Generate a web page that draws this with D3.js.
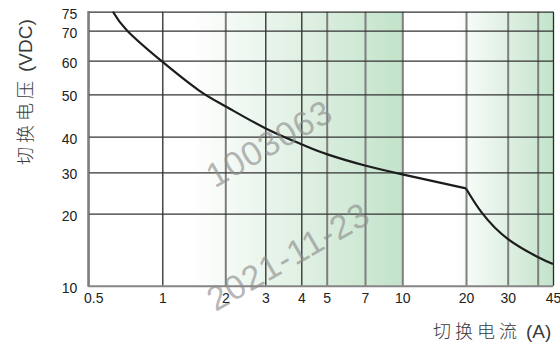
<!DOCTYPE html>
<html><head><meta charset="utf-8">
<script src="https://cdn.jsdelivr.net/npm/d3@7"></script>
<style>body{margin:0;background:#fff;} svg{display:block;}</style>
</head><body><svg id="c" width="560" height="347"></svg>
<script>
// ---- data ----
const xTicks = [0.5, 1, 2, 3, 4, 5, 7, 10, 20, 30, 40, 45];
const xLabelTicks = [0.5, 1, 2, 3, 4, 5, 7, 10, 20, 30, 45];
const yTicks = [10, 20, 30, 40, 50, 60, 70, 75];
const current = [0.63, 0.72, 1, 1.5, 2, 3, 4, 5, 7, 10, 20, 23.5, 30, 40, 45];
const voltage = [75, 70, 59.7, 51.1, 47.2, 42, 37.9, 35.1, 31.9, 29.5, 26.1, 20, 16.5, 14, 13];
const kneeCurrent = 20;
const greenBands = [[1.35, 10], [17.4, 45]];
const xTitle = "切换电流", xUnit = "(A)";
const yTitle = "切换电压", yUnit = "(VDC)";
const watermarks = ["1003063", "2021-11-23"];

// ---- layout (hand-drawn axis of the original: gridline pixel positions) ----
const xGridPx = [88.3, 162.3, 225.3, 265.3, 301.3, 326.7, 365, 402.3, 466, 507.7, 537.7, 553];
const yGridPx = [285.7, 213.7, 172.3, 136.7, 94.3, 60.7, 30.7, 11.7];

const x = d3.scaleLog().domain(xTicks).range(xGridPx);
const y = d3.scaleLinear().domain(yTicks).range(yGridPx);
const pL = x(0.5), pR = x(45), pT = y(75), pB = y(10);

const svg = d3.select("#c");
const defs = svg.append("defs");
const green = "#c3e3ca";

// green gradient bands
greenBands.forEach((b, i) => {
  const gid = "g" + i;
  const lg = defs.append("linearGradient").attr("id", gid)
    .attr("gradientUnits", "userSpaceOnUse")
    .attr("x1", x(b[0])).attr("x2", x(b[1])).attr("y1", 0).attr("y2", 0);
  lg.append("stop").attr("offset", 0).attr("stop-color", "#ffffff");
  lg.append("stop").attr("offset", 1).attr("stop-color", green);
  svg.append("rect").attr("x", x(b[0])).attr("y", pT)
    .attr("width", x(b[1]) - x(b[0])).attr("height", pB - pT)
    .attr("fill", `url(#${gid})`);
});

// vertical grid via axis
const darkX = new Set([1, 3, 4, 45]);
const gx = svg.append("g").attr("transform", `translate(0,${pB})`)
  .call(d3.axisBottom(x).tickValues(xTicks).tickSize(-(pB - pT)).tickFormat(""));
gx.select(".domain").remove();
gx.selectAll(".tick line")
  .attr("stroke", d => darkX.has(d) ? "#2a2a2a" : "#7e7e7e")
  .attr("stroke-width", d => darkX.has(d) ? 1.3 : 2);

// horizontal grid via axis
const gy = svg.append("g").attr("transform", `translate(${pL},0)`)
  .call(d3.axisLeft(y).tickValues(yTicks).tickSize(-(pR - pL)).tickFormat(""));
gy.select(".domain").remove();
gy.selectAll(".tick line")
  .attr("stroke", d => d === 10 ? "#858585" : "#333")
  .attr("stroke-width", d => d === 10 ? 2 : 1.3);

// left axis line (gray, on top of horizontals)
svg.append("line").attr("x1", pL).attr("x2", pL).attr("y1", pT - 0.6).attr("y2", pB + 1)
  .attr("stroke", "#7e7e7e").attr("stroke-width", 2);

// curve
const pts = current.map((c, i) => [c, voltage[i]]);
const k = current.indexOf(kneeCurrent);
const line = d3.line().x(d => x(d[0])).y(d => y(d[1])).curve(d3.curveNatural);
[pts.slice(0, k + 1), pts.slice(k)].forEach(seg => {
  svg.append("path").attr("d", line(seg)).attr("fill", "none")
    .attr("stroke", "#1c1c1c").attr("stroke-width", 2.2).attr("stroke-linejoin", "miter");
});

// watermarks
const wmPos = [[269, 143], [288, 256]];
watermarks.forEach((t, i) => {
  svg.append("text").attr("transform", `translate(${wmPos[i][0]},${wmPos[i][1]}) rotate(-30)`)
    .attr("text-anchor", "middle").attr("dy", "0.36em")
    .attr("font-family", "Liberation Sans, Arial, sans-serif").attr("font-size", 34)
    .attr("letter-spacing", 1)
    .attr("fill", "#8c8c8c").attr("fill-opacity", 0.65).text(t);
});

// tick labels
const fontFam = "Liberation Sans, Arial, Helvetica, sans-serif";
const xl = svg.append("g").attr("transform", `translate(0,${pB})`)
  .call(d3.axisBottom(x).tickValues(xLabelTicks).tickSize(0).tickPadding(7.3).tickFormat(d3.format("")));
xl.select(".domain").remove();
xl.selectAll("text").attr("font-family", fontFam).attr("font-size", 14).attr("fill", "#222")
  .attr("dx", d => d === 0.5 ? 5 : 0);

const yl = svg.append("g").attr("transform", `translate(${pL},0)`)
  .call(d3.axisLeft(y).tickValues(yTicks).tickSize(0).tickPadding(11).tickFormat(d3.format("")));
yl.select(".domain").remove();
yl.selectAll("text").attr("font-family", fontFam).attr("font-size", 14).attr("fill", "#222")
  .attr("dy", "0.46em");

// axis titles
const cjk = "Noto Sans CJK SC, sans-serif";
const xt = svg.append("text").attr("x", 433).attr("y", 338).attr("fill", "#3a3a3a");
xt.append("tspan").attr("font-family", cjk).attr("font-weight", 300).attr("font-size", 18).attr("letter-spacing", 4).text(xTitle);
xt.append("tspan").attr("dx", 5).attr("font-family", fontFam).attr("font-size", 19).text(xUnit);

const yt = svg.append("text").attr("transform", "translate(32,165) rotate(-90)").attr("fill", "#3a3a3a");
yt.append("tspan").attr("font-family", cjk).attr("font-weight", 300).attr("font-size", 18).attr("letter-spacing", 4).text(yTitle);
yt.append("tspan").attr("dx", 5).attr("font-family", fontFam).attr("font-size", 19).text(yUnit);
</script>
</body></html>
